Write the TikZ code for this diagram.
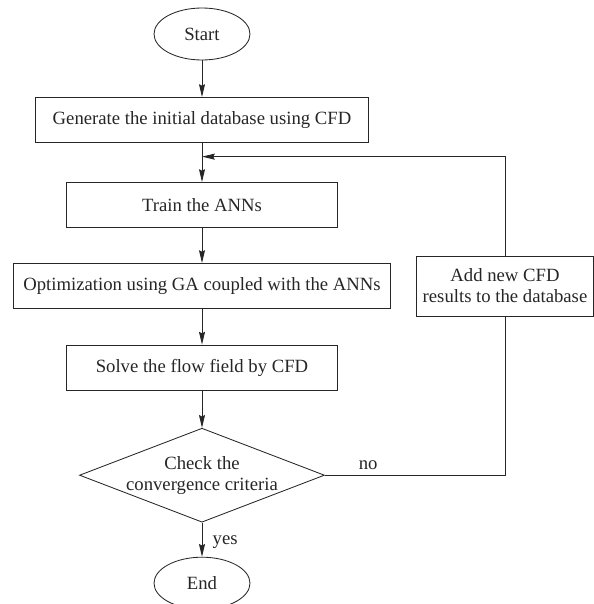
\documentclass[tikz,border=0pt]{standalone}
\usepackage{fontspec}
\setmainfont{Liberation Serif}
\usepackage{tikz}
\usetikzlibrary{shapes,arrows,positioning,calc,arrows.meta}

\begin{document}
\begin{tikzpicture}[node distance=2.1cm, auto, line width=0.6pt, color=black!85,
    >={Stealth[length=3.2mm, width=1.5mm, inset=0.4mm]},
    every node/.style={align=center, font=\fontsize{13.3}{15}\selectfont},
    block/.style={rectangle, draw, minimum height=1.13cm, inner sep=0pt},
    terminal/.style={ellipse, draw, minimum width=2.4cm, minimum height=1.3cm, inner sep=0pt},
    decision/.style={diamond, draw, minimum width=6.125cm, minimum height=2.35cm, inner sep=0pt}]
    \useasboundingbox (-5.05,0.85) rectangle (9.8,-14.25);
    \node [terminal] (start) at (0,0) {Start};
    \node [block, below of=start, node distance=2.15cm, minimum width=8.325cm] (gen) {Generate the initial database using CFD};
    \node [block, below of=gen, node distance=2.125cm, minimum width=6.775cm] (train) {Train the ANNs};
    \node [block, below of=train, node distance=2.025cm, minimum width=9.425cm] (opt) {Optimization using GA coupled with the ANNs};
    \node [block, below of=opt, node distance=2.04cm, minimum width=6.775cm] (solve) {Solve the flow field by CFD};
    \node [decision, below of=solve, node distance=2.69cm, label={center:Check the\\convergence criteria}] (check) {};
    \node [terminal, below of=check, node distance=2.7cm] (end) {End};
    \node [block, right of=opt, node distance=7.575cm, minimum width=4.425cm, minimum height=1.5cm] (add) {Add new CFD\\results to the database};
    \coordinate (merge) at ($(gen.south)!0.35!(train.north)$);

    \draw [->] (start) -- (gen);
    \draw [->] (gen) -- (train);
    \draw [->] (train) -- (opt);
    \draw [->] (opt) -- (solve);
    \draw [->] (solve) -- (check);
    \draw [->] (check) -- node[right, pos=0.57, xshift=4pt] {yes} (end);
    \draw (check.east) -- node[above, pos=0.24] {no} (check.east -| add.south) -- (add.south);
    \draw [->] (add.north) |- (merge);
\end{tikzpicture}
\end{document}
